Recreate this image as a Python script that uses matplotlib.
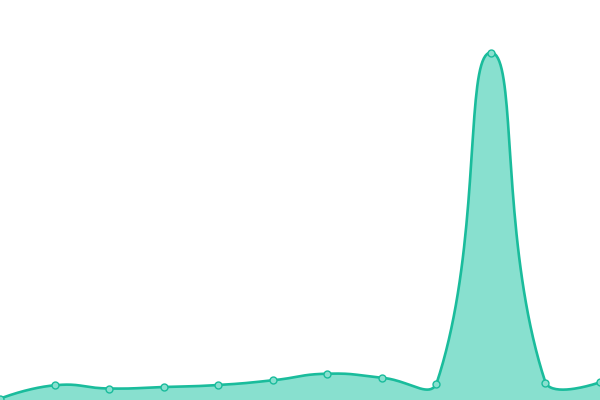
import numpy as np
import matplotlib
matplotlib.use("Agg")
import matplotlib.pyplot as plt

categories = list(range(12))
values = [1.3, 14.7, 11.5, 13, 15, 19.7, 26.3, 22.3, 16, 347.5, 17.5, 17.7]

LINE = "#1abc9c"
FILL = "#88e0cf"
SMOOTH = 0.5


def smooth_bezier(pts, smooth):
    """Control points in the style of a cardinal-like smoothing with global bbox constraint."""
    pts = np.asarray(pts, float)
    lo, hi = pts.min(axis=0), pts.max(axis=0)
    cps = []
    n = len(pts)
    for i in range(n):
        if i == 0 or i == n - 1:
            cps.append(pts[i].copy())
            continue
        prev, nxt, p = pts[i - 1], pts[i + 1], pts[i]
        v = (nxt - prev) * smooth
        d0 = np.hypot(*(p - prev))
        d1 = np.hypot(*(p - nxt))
        s = d0 + d1
        if s:
            d0 /= s
            d1 /= s
        cp0 = np.clip(p - v * d0, lo, hi)
        cp1 = np.clip(p + v * d1, lo, hi)
        cps.append(cp0)
        cps.append(cp1)
    # segments: pts[i] -> pts[i+1] with cps[2i], cps[2i+1]
    out = [pts[0]]
    t = np.linspace(0, 1, 40)[1:, None]
    for i in range(n - 1):
        a, b, c, d = pts[i], cps[2 * i], cps[2 * i + 1], pts[i + 1]
        seg = ((1 - t) ** 3) * a + 3 * ((1 - t) ** 2) * t * b + 3 * (1 - t) * t ** 2 * c + t ** 3 * d
        out.extend(seg)
    return np.array(out)


fig = plt.figure(figsize=(6, 4), dpi=100)
ax = fig.add_axes([0, 0, 1, 1])
ax.set_xlim(0, 11)
ax.set_ylim(0, 400)
ax.axis("off")

disp = ax.transData.transform(np.column_stack([categories, values]))
disp[:, 1] = -disp[:, 1]  # work in y-down pixel space
curve = smooth_bezier(disp, SMOOTH)
curve[:, 1] = -curve[:, 1]
data_curve = ax.transData.inverted().transform(curve)

ax.fill_between(data_curve[:, 0], data_curve[:, 1], 0, color=FILL, lw=0)
ax.plot(data_curve[:, 0], data_curve[:, 1], color=LINE, lw=1.9, solid_capstyle="round")
ax.plot(categories, values, "o", ms=5, mfc=FILL, mec=LINE, mew=1.0)
fig.savefig("out.png", dpi=100)
